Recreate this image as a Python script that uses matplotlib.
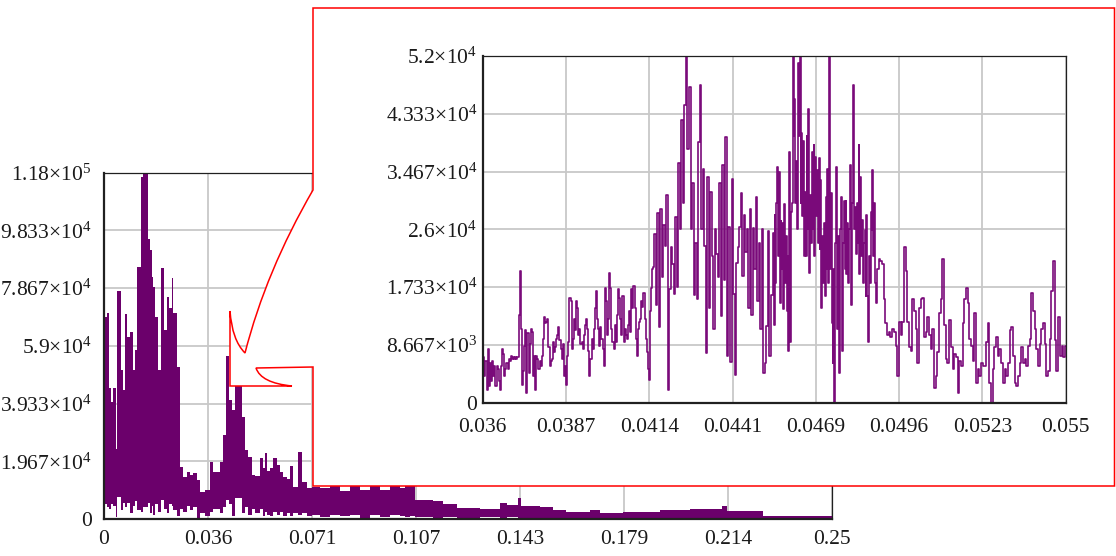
#!/usr/bin/env python3

import matplotlib
matplotlib.use("Agg")
import matplotlib.pyplot as plt
import numpy as np
from matplotlib.path import Path
from matplotlib.patches import PathPatch

plt.rcParams['font.family'] = ['Liberation Serif', 'DejaVu Serif']
plt.rcParams['mathtext.fontset'] = 'custom'
plt.rcParams['mathtext.rm'] = 'Liberation Serif'
plt.rcParams['mathtext.it'] = 'Liberation Serif:italic'

# main spectrum, envelope of the dense trace (values in units of 1e3)
main_f = [0.0000, 0.0011, 0.0018, 0.0024, 0.0032, 0.0041, 0.0046, 0.0059, 0.0066, 0.0072,
          0.0080, 0.0089, 0.0099, 0.0106, 0.0114, 0.0126, 0.0135, 0.0152, 0.0158, 0.0164,
          0.0169, 0.0175, 0.0186, 0.0195, 0.0206, 0.0215, 0.0223, 0.0232, 0.0238, 0.0250,
          0.0261, 0.0272, 0.0284, 0.0295, 0.0307, 0.0318, 0.0330, 0.0347, 0.0364, 0.0375,
          0.0398, 0.0410, 0.0419, 0.0430, 0.0439, 0.0450, 0.0473, 0.0484, 0.0496, 0.0507,
          0.0519, 0.0536, 0.0545, 0.0553, 0.0561, 0.0570, 0.0581, 0.0595, 0.0604, 0.0616,
          0.0627, 0.0639, 0.0650, 0.0667, 0.0679, 0.0696, 0.0713, 0.0742, 0.0776, 0.0810,
          0.0845, 0.0879, 0.0913, 0.0948, 0.0982, 0.1017, 0.1034, 0.1051, 0.1068, 0.1130,
          0.1164, 0.1211, 0.1291, 0.1360, 0.1383, 0.1422, 0.1432, 0.1497, 0.1542, 0.1587,
          0.1669, 0.1703, 0.1782, 0.1909, 0.2012, 0.2122, 0.2140, 0.2253, 0.2263, 0.2500]
main_hi = [68.7, 70.0, 44.5, 40.0, 44.5, 24.0, 77.6, 50.7, 44.0, 69.7,
           62.0, 63.6, 50.7, 57.5, 85.7, 116.6, 118.0, 95.5, 91.5, 82.4,
           79.0, 68.7, 50.7, 85.4, 64.3, 75.6, 72.0, 82.0, 70.0, 51.8,
           17.8, 14.4, 16.0, 15.0, 15.6, 13.3, 9.3, 9.8, 19.5, 16.0,
           19.5, 28.6, 55.4, 40.5, 37.0, 50.0, 34.8, 23.5, 21.0, 15.0,
           14.7, 20.7, 17.5, 22.4, 16.5, 17.2, 20.7, 18.4, 16.0, 14.4,
           13.6, 18.1, 11.0, 22.9, 12.6, 10.5, 11.0, 10.5, 12.0, 9.5,
           12.5, 10.0, 12.0, 9.8, 12.5, 10.5, 13.0, 11.5, 6.5, 6.2,
           5.0, 3.7, 3.5, 5.5, 4.8, 7.1, 4.5, 4.0, 3.0, 2.3,
           2.9, 1.9, 2.5, 3.0, 3.4, 4.5, 2.7, 2.8, 1.0, 1.0]
main_lo = [5.0, 4.0, 3.5, 5.0, 4.5, 0.7, 7.5, 3.0, 5.5, 4.0,
           5.5, 2.0, 4.5, 6.0, 3.0, 2.5, 4.0, 5.5, 2.0, 4.5,
           1.5, 5.0, 2.5, 6.5, 3.5, 2.0, 5.0, 4.5, 3.0, 1.0,
           3.5, 2.5, 4.5, 3.0, 4.0, 0.5, 2.0, 1.0, 2.5, 3.5,
           2.0, 4.0, 6.5, 5.0, 1.0, 7.0, 2.0, 4.0, 1.5, 3.5,
           2.0, 3.5, 1.0, 2.5, 1.5, 1.0, 2.5, 1.5, 2.5, 1.0,
           2.0, 1.0, 2.0, 1.5, 2.0, 1.0, 1.5, 0.8, 1.5, 1.0,
           1.5, 0.5, 1.2, 0.8, 1.2, 1.0, 0.8, 1.0, 0.6, 0.5,
           0.6, 0.5, 0.6, 0.5, 0.6, 0.5, 0.5, 0.5, 0.5, 0.4,
           0.4, 0.4, 0.4, 0.4, 0.4, 0.4, 0.4, 0.4, 0.3, 0.3]

# zoomed trace 0.036 .. 0.055, read in four stretches (values in units of 1e3)
zoom_seg_edges = [(0.03600, 0.04158), (0.04161, 0.04537), (0.04544, 0.04883), (0.04888, 0.05500)]
zoom_seg1 = [0, 6.78, 3.98, 6.27, 1.94, 8.06, 2.45, 6.02, 3.21, 6.27, 3.98, 5.51, 2.45, 5.51, 5.0,
             3.21, 1.94, 5.51, 8.06, 7.29, 3.98, 5.0, 6.02, 5.0, 6.53, 6.27, 7.04, 6.53, 6.78,
             6.53, 6.78, 6.53, 6.78, 13.2, 19.8, 11.1, 2.7, 4.74, 8.57, 10.9, 1.43, 10.4, 4.49,
             8.82, 11.1, 10.6, 3.98, 7.04, 1.94, 7.04, 6.53, 5.0, 6.27, 5.51, 7.04, 9.59, 12.9,
             11.9, 12.1, 12.6, 8.31, 5.51, 6.27, 6.53, 9.08, 7.55, 8.31, 9.59, 10.1, 11.4, 9.33,
             8.06, 6.53, 8.82, 3.98, 5.51, 2.7, 7.04, 9.08, 15.7, 15.2, 8.06, 9.59, 12.6, 10.9,
             15.2, 14.2, 10.1, 11.1, 8.82, 9.08, 8.06, 10.1, 11.6, 12.6, 11.1, 7.8, 3.98, 6.53,
             9.59, 8.06, 11.1, 14.2, 16.7, 12.6, 11.1, 8.57, 11.4, 9.59, 8.06, 5.51, 17.2, 15.2,
             10.1, 12.6, 19.5, 17.2, 11.1, 9.08, 8.06, 11.6, 9.08, 13.2, 17.0, 15.7, 12.6, 10.1,
             16.0, 9.08, 11.1, 10.1, 9.59, 11.6, 13.7, 10.6, 17.0, 14.2, 17.5, 14.2, 9.59, 7.04,
             11.1, 12.1, 12.6, 15.2, 14.4, 16.5, 12.6, 9.59, 7.55, 5.0, 3.47, 13.7, 17.2, 20.0, 20.3]
zoom_seg2 = [25.3, 14.7, 28.4, 11.4, 29.1, 18.8, 26.6, 23.5, 31.1, 1.9, 17, 23.4, 20.8, 16.3,
             27.9, 17.3, 35.9, 26, 42.4, 30, 44.6, 52, 38, 47.4, 26, 32.9, 16.2, 24, 15.5, 39.1,
             47.6, 26, 35, 23.5, 7.5, 33.9, 14.2, 31.6, 22, 11.1, 26, 22.3, 18.9, 33, 13, 35.7,
             18.4, 39.8, 7, 26.4, 6.1, 33.6, 16.3, 4.2, 21, 23.4, 26.4, 31.4, 19, 28.1, 22.6,
             26.0, 14.2, 29.1, 13.1, 26.2, 20, 30.9, 15.3, 24, 11.1, 26, 4.5, 6, 11.5, 25.8, 7]
zoom_seg3 = [16.2, 25.5, 11.6, 28.1, 18, 30, 35.4, 22, 34.6, 15, 27.3, 20, 27, 14, 29.8, 18, 25,
             13.7, 22, 7.8, 37.6, 9.1, 28.6, 30, 52, 40, 45.6, 30, 36.3, 26, 51, 40, 52, 30, 40.5,
             28, 39.2, 22, 31.6, 22, 40, 26, 44.1, 19.5, 31.1, 24, 37.6, 26, 38.6, 22, 36.9, 28,
             34.9, 24, 36.7, 23, 33.4, 14.2, 25, 18, 27, 16, 30.9, 20, 35.1, 18, 52, 20, 31.4, 12,
             6, 20, 0, 24, 35.4, 11.1, 25, 4.5, 18, 26, 30.8, 7.8, 24, 30.2, 20, 30.2, 19.3, 27,
             18, 26, 35.6, 14.7, 30, 42.4, 47.6, 26, 29.4, 22.3, 30, 24, 38.6, 19.3, 33.9, 22,
             27.4, 18, 24, 25.9, 16, 28.2, 16, 9.1, 22, 18, 28.6, 25.9, 34.9, 22, 29.9, 18, 15]
zoom_seg4 = [20.0, 21.6, 21.3, 20.8, 15.5, 11.9, 10.1, 10.6, 9.84, 11.1, 10.6, 8.57, 3.98, 12.1,
             10.1, 12.1, 23.4, 19.8, 12.1, 8.31, 7.8, 15.5, 13.7, 11.1, 6.02, 14.2, 15.5, 15.7,
             9.84, 10.6, 12.9, 10.1, 8.06, 11.1, 2.19, 3.98, 7.55, 13.4, 15.5, 21.6, 11.6, 6.53,
             6.02, 12.4, 8.31, 5.0, 7.29, 6.78, 1.43, 6.27, 5.51, 11.9, 15.5, 17.2, 14.9, 9.59,
             8.57, 6.27, 13.4, 2.96, 5.0, 3.98, 6.02, 5.51, 5.51, 9.08, 11.9, 2.96, 0, 5.0, 8.31,
             9.84, 7.04, 8.06, 6.02, 2.96, 5.0, 3.98, 6.02, 10.9, 11.4, 7.04, 2.96, 2.45, 3.98,
             6.02, 8.31, 6.02, 6.53, 5.51, 8.57, 9.59, 16.5, 13.7, 11.1, 8.06, 5.51, 8.82, 11.1,
             11.9, 8.82, 3.98, 4.74, 9.59, 16.7, 21.3, 9.33, 4.74, 12.9, 7.04, 8.57, 6.78, 8.57]

main_xticks = ['0', '0.036', '0.071', '0.107', '0.143', '0.179', '0.214', '0.25']
main_yticks = ['0', '1.967×10$^{4}$', '3.933×10$^{4}$', '5.9×10$^{4}$',
               '7.867×10$^{4}$', '9.833×10$^{4}$', '1.18×10$^{5}$']
zoom_xticks = ['0.036', '0.0387', '0.0414', '0.0441', '0.0469', '0.0496', '0.0523', '0.055']
zoom_yticks = ['0', '8.667×10$^{3}$', '1.733×10$^{4}$', '2.6×10$^{4}$',
               '3.467×10$^{4}$', '4.333×10$^{4}$', '5.2×10$^{4}$']

W, H = 1116, 556


def style_axes(ax, xpad, ypad):
    ax.grid(True, color='#c8c8c8', lw=1.3)
    ax.set_axisbelow(True)
    ax.tick_params(length=0, labelsize=15.5, colors='#1a1a1a')
    ax.tick_params(axis='x', pad=xpad)
    ax.tick_params(axis='y', pad=ypad)
    for s in ['top', 'right']:
        ax.spines[s].set_linewidth(0.9)
        ax.spines[s].set_color('#202020')
    for s in ['left', 'bottom']:
        ax.spines[s].set_linewidth(1.6)
        ax.spines[s].set_color('#202020')


fig = plt.figure(figsize=(W / 100, H / 100), dpi=100)

# main chart
ax = fig.add_axes([104 / W, (H - 519) / H, 728 / W, 346.5 / H])
ax.set_zorder(0)
ax.fill_between(main_f, np.array(main_lo) * 1e3, np.array(main_hi) * 1e3,
                step='post', color='#6b006b', lw=0)
ax.set_xlim(0, 0.25)
ax.set_ylim(0, 1.18e5)
ax.set_xticks(np.linspace(0, 0.25, 8))
ax.set_xticklabels(main_xticks)
ax.set_yticks(np.linspace(0, 1.18e5, 7))
ax.set_yticklabels(main_yticks)
style_axes(ax, 8, 9)


# callout frame with arrow (pixel positions -> figure fraction)
def fp(x, y):
    return (x / W, 1 - y / H)


verts = [fp(313, 8), fp(1114.5, 8), fp(1114.5, 486), fp(313, 486), fp(313, 367),
         fp(256, 368), fp(261, 383), fp(292, 386), fp(230, 386), fp(230, 311),
         fp(232, 340), fp(245, 353), fp(266, 271), fp(313, 190), fp(313, 8)]
codes = [Path.MOVETO, Path.LINETO, Path.LINETO, Path.LINETO, Path.LINETO,
         Path.LINETO, Path.CURVE3, Path.CURVE3, Path.LINETO, Path.LINETO,
         Path.CURVE3, Path.CURVE3, Path.CURVE3, Path.CURVE3, Path.CLOSEPOLY]
callout = PathPatch(Path(verts, codes), facecolor='white', edgecolor='#ff0000',
                    lw=1.1, transform=fig.transFigure, zorder=1)
fig.add_artist(callout)

# zoomed chart
axz = fig.add_axes([482.7 / W, (H - 402.7) / H, 583 / W, 346.7 / H])
axz.set_zorder(2)
segs = [zoom_seg1, zoom_seg2, zoom_seg3, zoom_seg4]
zf = np.concatenate([np.linspace(a, b, len(v)) for (a, b), v in zip(zoom_seg_edges, segs)])
zv = np.concatenate([np.array(v) for v in segs]) * 1e3
axz.plot(zf, zv, color='#7a0a7a', lw=1.2, drawstyle='steps-mid')
axz.set_xlim(0.036, 0.055)
axz.set_ylim(0, 5.2e4)
axz.set_xticks(np.linspace(0.036, 0.055, 8))
axz.set_xticklabels(zoom_xticks)
axz.set_yticks(np.linspace(0, 5.2e4, 7))
axz.set_yticklabels(zoom_yticks)
style_axes(axz, 11, 4)

fig.savefig('out.png', dpi=100)
